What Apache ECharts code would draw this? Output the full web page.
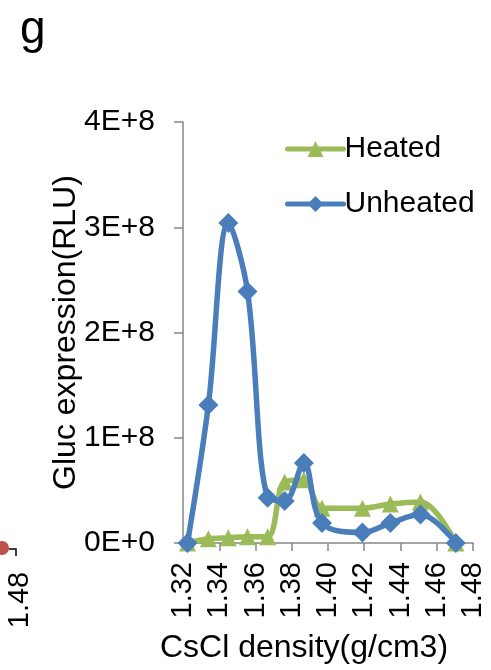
<!DOCTYPE html>
<html>
<head>
<meta charset="utf-8">
<script src="https://cdn.jsdelivr.net/npm/echarts@6/dist/echarts.min.js"></script>
<style>
  html, body { margin: 0; padding: 0; background: #fff; }
  #chart { width: 491px; height: 670px; }
</style>
</head>
<body>
<div id="chart"></div>
<script>
// CsCl density fractions (g/cm3)
const density = [1.3225, 1.334, 1.345, 1.3556, 1.3667, 1.3761, 1.3867, 1.3967, 1.419, 1.4344, 1.451, 1.4705]
// Gluc expression (RLU)
const heated = [0, 0.04e8, 0.05e8, 0.06e8, 0.06e8, 0.58e8, 0.60e8, 0.33e8, 0.33e8, 0.37e8, 0.39e8, 0]
const unheated = [0, 1.31e8, 3.04e8, 2.39e8, 0.43e8, 0.40e8, 0.76e8, 0.19e8, 0.10e8, 0.19e8, 0.27e8, 0]

const font = 'Liberation Sans, Arial, sans-serif'
const axisColor = '#868686'

const chart = echarts.init(document.getElementById('chart'))
chart.setOption({
  animation: false,
  textStyle: { fontFamily: font },
  title: {
    text: 'g',
    left: 15,
    top: 2,
    textStyle: { fontFamily: font, fontSize: 46, fontWeight: 'normal', color: '#000' }
  },
  legend: {
    orient: 'vertical',
    left: 280,
    top: 129,
    itemWidth: 56,
    itemHeight: 20,
    itemGap: 25,
    lineStyle: { width: 5, cap: 'round' },
    textStyle: { fontFamily: font, fontSize: 30, color: '#000', padding: [0, 0, 0, -4] },
    data: ['Heated', 'Unheated']
  },
  grid: { left: 183, right: 18, top: 122, bottom: 127 },
  xAxis: {
    type: 'value',
    min: 1.32,
    max: 1.48,
    interval: 0.02,
    name: 'CsCl density(g/cm3)',
    nameLocation: 'middle',
    nameGap: 89,
    nameTextStyle: { fontFamily: font, fontSize: 32, color: '#000', padding: [0, 48, 0, 0] },
    axisLine: { lineStyle: { color: axisColor, width: 1.5 } },
    axisTick: { inside: false, length: 8, lineStyle: { color: axisColor, width: 1.5 } },
    axisLabel: {
      rotate: 90,
      margin: 19,
      fontSize: 29,
      color: '#000',
      fontFamily: font,
      formatter: v => v.toFixed(2)
    },
    splitLine: { show: false }
  },
  yAxis: {
    type: 'value',
    min: 0,
    max: 4e8,
    interval: 1e8,
    name: 'Gluc expression(RLU)',
    nameLocation: 'middle',
    nameMoveOverlap: false,
    nameGap: 101,
    nameTextStyle: { fontFamily: font, fontSize: 32, color: '#000' },
    axisLine: { show: true, lineStyle: { color: axisColor, width: 1.5 } },
    axisTick: { show: true, length: 9, lineStyle: { color: axisColor, width: 1.5 } },
    axisLabel: {
      margin: 28,
      fontSize: 30,
      color: '#000',
      fontFamily: font,
      formatter: v => v === 0 ? '0E+0' : (v / 1e8) + 'E+8'
    },
    splitLine: { show: false }
  },
  series: [
    {
      name: 'Heated',
      type: 'line',
      data: density.map((x, i) => [x, heated[i]]),
      smooth: 0.35,
      symbol: 'triangle',
      symbolSize: 17,
      lineStyle: { color: '#9BBB59', width: 5.5 },
      itemStyle: { color: '#9BBB59' },
      z: 2
    },
    {
      name: 'Unheated',
      type: 'line',
      data: density.map((x, i) => [x, unheated[i]]),
      smooth: 0.35,
      symbol: 'diamond',
      symbolSize: 20,
      lineStyle: { color: '#4A7EBB', width: 5.5 },
      itemStyle: { color: '#4A7EBB' },
      z: 3
    }
  ],
  graphic: [
    // remnant of the neighbouring panel on the left edge
    { type: 'circle', shape: { cx: 2, cy: 548, r: 7 }, style: { fill: '#C0504D' } },
    { type: 'polyline', shape: { points: [[9, 549], [16, 549], [16, 556]] }, style: { stroke: '#000', lineWidth: 1.5, fill: null } },
    {
      type: 'text',
      x: 20,
      y: 600,
      rotation: Math.PI / 2,
      style: { text: '1.48', font: '29px ' + font, fill: '#000', align: 'center', verticalAlign: 'middle' }
    }
  ]
})
</script>
</body>
</html>
